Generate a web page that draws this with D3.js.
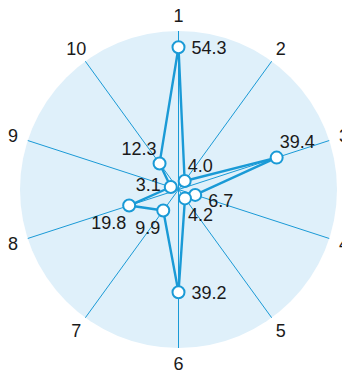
<!DOCTYPE html>
<html>
<head>
<meta charset="utf-8">
<script src="https://cdn.jsdelivr.net/npm/d3@7"></script>
<style>
  html, body { margin: 0; padding: 0; background: #fff; }
  svg { display: block; }
  text { font-family: "Liberation Sans Narrow", "Liberation Sans", Arial, sans-serif; fill: #1a1a1a; }
</style>
</head>
<body>
<svg id="chart" width="342" height="370"></svg>
<script>
// ---- data ----
const axes = ["1", "2", "3", "4", "5", "6", "7", "8", "9", "10"];
const values = [54.3, 4.0, 39.4, 6.7, 4.2, 39.2, 9.9, 19.8, 3.1, 12.3];
const valueLabels = ["54.3", "4.0", "39.4", "6.7", "4.2", "39.2", "9.9", "19.8", "3.1", "12.3"];
const radialMax = 60.5;
// label placement (compass direction relative to point)
const labelDir = ["e", "ne", "ne", "e", "se", "e", "sw", "sw", "w", "nw"];

// ---- layout ----
const cx = 178.5, cy = 189.5, R = 158.5, labelR = 174;
const blue = "#1a9ad6";
const svg = d3.select("#chart");
const g = svg.append("g").attr("transform", `translate(${cx},${cy})`);

const r = d3.scaleLinear().domain([0, radialMax]).range([0, R]);
const angle = d3.scaleBand().domain(axes).range([0, 2 * Math.PI]).align(0).paddingInner(0).paddingOuter(0);
const ang = a => angle(a);
const px = (a, rad) => rad * Math.sin(ang(a));
const py = (a, rad) => -rad * Math.cos(ang(a));

g.append("circle").attr("r", R).attr("fill", "#dff0fa");

g.selectAll("line.axis").data(axes).join("line")
  .attr("class", "axis")
  .attr("x1", 0).attr("y1", 0)
  .attr("x2", d => px(d, R)).attr("y2", d => py(d, R))
  .attr("stroke", blue).attr("stroke-width", 1);

g.selectAll("text.axislabel").data(axes).join("text")
  .attr("class", "axislabel")
  .attr("x", d => px(d, labelR)).attr("y", d => py(d, labelR))
  .attr("dy", "0.36em")
  .attr("text-anchor", "middle")
  .attr("font-size", 18)
  .text(d => d);

const pts = axes.map((a, i) => ({ a, v: values[i], lbl: valueLabels[i], dir: labelDir[i],
  x: px(a, r(values[i])), y: py(a, r(values[i])) }));

const line = d3.line().x(d => d.x).y(d => d.y).curve(d3.curveLinearClosed);
g.append("path").datum(pts).attr("d", line)
  .attr("fill", "none").attr("stroke", blue).attr("stroke-width", 2.4).attr("stroke-linejoin", "round");

g.selectAll("circle.pt").data(pts).join("circle")
  .attr("class", "pt")
  .attr("cx", d => d.x).attr("cy", d => d.y).attr("r", 6)
  .attr("fill", "#fff").attr("stroke", blue).attr("stroke-width", 2);

const off = {
  e:  { dx: 13, dy: 0, anchor: "start" },
  ne: { dx: 3, dy: -16, anchor: "start" },
  se: { dx: 3, dy: 16, anchor: "start" },
  w:  { dx: -10, dy: -2, anchor: "end" },
  sw: { dx: -3, dy: 17, anchor: "end" },
  nw: { dx: -3, dy: -15, anchor: "end" }
};
g.selectAll("text.val").data(pts).join("text")
  .attr("class", "val")
  .attr("x", d => d.x + off[d.dir].dx)
  .attr("y", d => d.y + off[d.dir].dy + (d.a === "4" ? 6 : 0))
  .attr("dy", "0.36em")
  .attr("text-anchor", d => off[d.dir].anchor)
  .attr("font-size", 18)
  .text(d => d.lbl);
</script>
</body>
</html>
